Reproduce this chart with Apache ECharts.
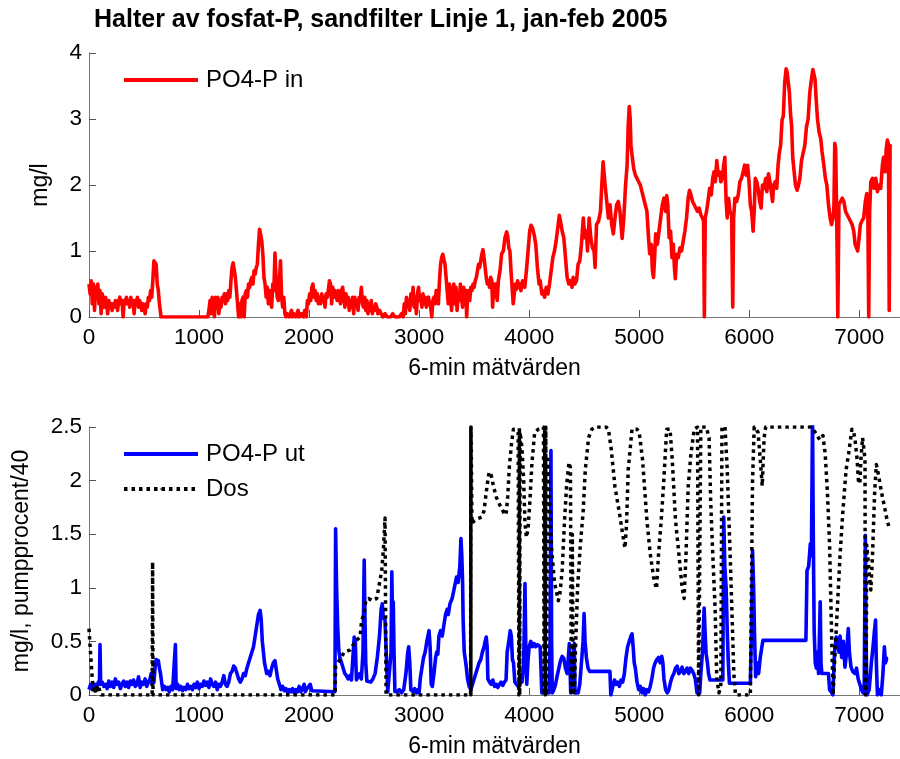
<!DOCTYPE html>
<html><head><meta charset="utf-8">
<script src="https://cdn.jsdelivr.net/npm/echarts@6/dist/echarts.min.js"></script>
<style>html,body{margin:0;padding:0;background:#fff}#c{width:900px;height:759px}</style>
</head><body><div id="c"></div>
<script>
const titleText = 'Halter av fosfat-P, sandfilter Linje 1, jan-feb 2005';
const xName = '6-min mätvärden';
const yNameTop = 'mg/l';
const yNameBottom = 'mg/l, pumpprocent/40';
const legendTop = ['PO4-P in'];
const legendBottom = ['PO4-P ut', 'Dos'];

// PO4-P in (top panel) [sample index, mg/l]
const po4In = [[0,0.5],[10,0.35],[20,0.55],[30,0.2],[40,0.5],[50,0.1],[60,0.45],[70,0.3],[80,0.5],[90,0.2],[100,0.4],[110,0.05],[120,0.35],[130,0.25],[140,0.15],[150,0.3],[160,0.2],[170,0.05],[180,0.25],[190,0.15],[200,0.2],[210,0.1],[220,0.2],[230,0.15],[240,0.25],[250,0.2],[260,0.1],[270,0.25],[280,0.3],[290,0.2],[300,0.25],[310,0.0],[320,0.25],[330,0.2],[340,0.3],[350,0.2],[360,0.25],[370,0.15],[380,0.3],[390,0.2],[400,0.25],[410,0.05],[420,0.25],[430,0.2],[440,0.3],[450,0.15],[460,0.25],[470,0.2],[480,0.1],[490,0.2],[500,0.15],[510,0.05],[520,0.2],[530,0.15],[540,0.3],[550,0.25],[560,0.4],[570,0.3],[580,0.55],[590,0.85],[600,0.82],[610,0.8],[620,0.5],[630,0.4],[640,0.2],[655,0],
[1080,0],[1090,0.1],[1100,0.25],[1110,0.05],[1120,0.3],[1130,0.2],[1140,0],[1150,0.3],[1160,0.2],[1170,0.3],[1180,0.05],[1190,0.25],[1200,0.15],[1210,0.3],[1220,0.25],[1230,0.35],[1240,0.2],[1250,0.35],[1260,0.25],[1270,0.4],[1280,0.3],[1290,0.55],[1300,0.75],[1310,0.82],[1320,0.8],[1330,0.6],[1340,0.4],[1350,0.2],[1360,0.0],[1370,0.2],[1380,0.0],[1390,0.25],[1400,0.3],[1410,0.0],[1420,0.35],[1430,0.4],[1440,0.3],[1450,0.5],[1460,0.45],[1470,0.55],[1480,0.6],[1490,0.5],[1500,0.7],[1510,0.65],[1520,0.75],[1530,0.8],[1540,1.1],[1550,1.33],[1560,1.25],[1570,1.15],[1580,0.95],[1590,0.6],[1600,0.5],[1610,0.3],[1620,0.45],[1630,0.2],[1640,0.4],[1650,0.3],[1660,0.15],[1670,0.5],[1680,0.4],[1690,0.97],[1700,0.6],[1710,0.3],[1720,0.25],[1730,0.5],[1740,0.85],[1750,0.3],[1760,0.15],[1770,0.3],[1780,0.05],[1790,0],
[1800,0.05],[1820,0.0],[1840,0.1],[1850,0.0],[1860,0.05],[1880,0.0],[1900,0.1],[1910,0.0],[1930,0.05],[1950,0.0],[1960,0.1],[1975,0.0],[1985,0.25],[1995,0.2],[2005,0.35],[2015,0.25],[2025,0.45],[2035,0.5],[2045,0.3],[2055,0.4],[2065,0.25],[2075,0.35],[2085,0.2],[2095,0.3],[2105,0.2],[2115,0.35],[2125,0.25],[2135,0.3],[2145,0.15],[2155,0.35],[2165,0.3],[2175,0.4],[2185,0.55],[2195,0.5],[2205,0.2],[2215,0.45],[2225,0.3],[2235,0.4],[2245,0.35],[2255,0.25],[2265,0.4],[2275,0.3],[2285,0.2],[2295,0.4],[2305,0.45],[2315,0.3],[2325,0.15],[2335,0.35],[2345,0.2],[2355,0.3],[2365,0.1],[2375,0.25],[2385,0.15],[2395,0.3],[2405,0.05],[2415,0.3],[2425,0.2],[2435,0.25],[2445,0.1],[2455,0.3],[2465,0.25],[2475,0.45],[2485,0.2],[2495,0.15],[2505,0.3],[2515,0.1],[2525,0.25],[2535,0.05],[2545,0.2],[2555,0.1],[2565,0.25],[2575,0.05],[2585,0.15],[2595,0.1],[2605,0.2],[2615,0.15],[2625,0.05],[2640,0.1],[2655,0.05],[2670,0.0],[2690,0.05],[2710,0.0],[2740,0.0],[2760,0.05],[2780,0.0],[2800,0.0],[2820,0.0],[2840,0.05],[2855,0.0],[2865,0.2],[2875,0.05],[2885,0.3],[2895,0.15],[2905,0.25],[2915,0.1],[2925,0.35],[2935,0.2],[2945,0.45],[2955,0.15],[2965,0.3],[2975,0.05],[2985,0.35],[2995,0.45],[3005,0.25],[3015,0.3],[3025,0.15],[3035,0.35],[3045,0.2],[3055,0.3],[3065,0.15],[3075,0.25],[3085,0.3],[3095,0.2],[3105,0.15],[3115,0.0],[3125,0.25],[3135,0.3],[3145,0.2],[3155,0.4],[3165,0.35],[3175,0.2],[3185,0.55],[3195,0.8],[3205,0.9],[3215,0.95],[3225,0.93],[3235,0.8],[3245,0.6],[3255,0.4],[3265,0.2],[3275,0.5],[3285,0.3],[3295,0.1],[3305,0.4],[3315,0.5],[3325,0.2],[3335,0.45],[3345,0.1],[3355,0.35],[3365,0.25],[3375,0.5],[3385,0.3],[3395,0.15],[3405,0.45],[3415,0.3],[3425,0.4],[3432,0.0],[3440,0.3],[3450,0.4],[3460,0.25],[3470,0.45],[3480,0.4],[3490,0.5],[3500,0.45],[3510,0.55],[3520,0.6],[3530,0.7],[3540,0.8],[3550,0.75],[3560,0.85],[3570,0.95],[3580,1.02],[3590,0.9],[3600,0.75],[3610,0.6],[3620,0.5],[3630,0.55],[3640,0.45],[3650,0.6],[3660,0.55],[3668,0.15],[3675,0.4],[3685,0.5],[3695,0.3],
[3700,0.5],[3710,0.25],[3720,0.55],[3735,0.7],[3750,0.96],[3765,1.0],[3780,1.2],[3796,1.29],[3805,1.22],[3815,1.05],[3825,1.0],[3835,0.7],[3845,0.45],[3855,0.2],[3865,0.35],[3875,0.5],[3885,0.42],[3895,0.55],[3905,0.45],[3915,0.5],[3925,0.4],[3940,0.55],[3960,0.45],[3975,0.7],[3990,1.0],[4005,1.3],[4017,1.39],[4030,1.35],[4045,1.25],[4060,1.1],[4075,0.75],[4090,0.5],[4100,0.55],[4115,0.35],[4125,0.4],[4140,0.3],[4155,0.45],[4170,0.35],[4185,0.5],[4200,0.7],[4215,0.9],[4230,1.0],[4245,1.15],[4260,1.35],[4274,1.54],[4285,1.45],[4300,1.3],[4315,1.2],[4330,0.9],[4345,0.6],[4360,0.5],[4375,0.55],[4390,0.45],[4400,0.6],[4415,0.5],[4430,0.55],[4445,0.8],[4460,0.85],[4475,1.1],[4492,1.5],[4505,1.2],[4520,1.3],[4530,1.0],[4545,1.5],[4560,1.2],[4575,1.05],[4590,1.0],
[4599,0.75],[4612,1.4],[4630,1.45],[4648,1.6],[4660,2.0],[4672,2.35],[4690,2.0],[4705,1.75],[4720,1.5],[4735,1.7],[4750,1.4],[4765,1.26],[4780,1.5],[4795,1.7],[4810,1.75],[4825,1.6],[4845,1.19],[4860,1.5],[4875,1.97],[4890,2.3],[4900,2.9],[4910,3.19],[4918,3.0],[4925,2.6],[4935,2.45],[4950,2.25],[4965,2.15],
[4980,2.1],[4995,2.05],[5010,2.0],[5025,1.9],[5040,1.8],[5055,1.7],[5070,1.6],[5085,1.2],[5095,0.96],[5110,1.1],[5120,0.7],[5130,0.6],[5140,0.9],[5150,1.26],[5165,1.1],[5180,1.3],[5195,1.5],[5210,1.7],[5225,1.8],[5240,1.6],[5250,1.84],[5260,1.7],[5272,1.2],[5285,1.3],[5298,0.9],[5310,1.1],[5320,0.75],[5328,0.58],[5340,0.95],[5355,0.9],[5370,1.05],[5385,1.0],[5400,1.15],[5415,1.3],[5430,1.5],[5445,1.8],[5457,1.92],[5470,1.85],[5485,1.75],[5500,1.7],[5515,1.68],[5530,1.6],[5545,1.65],[5560,1.55],[5575,1.5],[5585,1.45],[5592,0],
[5600,1.5],[5612,1.6],[5625,1.75],[5640,1.95],[5655,1.85],[5668,2.1],[5680,2.2],[5692,2.05],[5705,2.37],[5718,2.15],[5730,2.2],[5742,2.05],[5755,2.1],[5768,2.3],[5778,2.42],[5790,1.75],[5800,1.5],[5812,1.8],[5825,1.6],[5840,1.55],[5850,0.15],[5858,1.5],[5870,1.8],[5885,1.75],[5900,1.85],[5915,2.05],[5930,2.1],[5945,2.2],[5958,2.3],[5972,2.15],[5985,2.3],[5998,2.05],[6010,1.7],[6022,1.6],[6035,1.3],[6045,1.6],[6055,2.1],[6068,2.05],[6080,1.95],[6095,1.75],[6108,1.65],[6120,2.0],[6135,1.95],[6150,2.1],[6160,1.9],[6175,2.17],[6188,2.05],[6200,1.9],[6212,1.75],[6222,2.0],[6238,2.05],[6250,1.95],[6262,2.3],[6272,2.47],[6285,2.6],[6298,2.98],[6310,3.05],[6322,3.55],[6335,3.76],[6345,3.7],[6355,3.55],[6365,3.4],[6375,3.08],[6385,2.9],[6395,2.42],[6408,2.2],[6420,2.0],[6435,1.92],[6448,2.0],[6460,2.1],[6475,2.37],[6490,2.4],[6505,2.6],[6520,2.88],[6535,3.0],[6550,3.4],[6565,3.6],[6578,3.75],[6588,3.78],[6598,3.6],[6608,3.3],[6620,3.0],[6635,2.8],[6650,2.7],[6662,2.5],[6678,2.3],[6692,2.1],[6705,2.0],[6720,1.7],[6735,1.5],[6748,1.4],[6762,1.5],[6770,1.7],[6777,2.63],[6785,2.55],[6795,1.5],[6805,0],[6815,1.7],[6830,1.75],[6845,1.8],[6860,1.75],[6875,1.6],[6890,1.55],[6905,1.5],[6920,1.45],[6935,1.4],[6950,1.3],[6962,1.1],[6975,1.05],[6985,1.0],[6995,1.15],[7010,1.4],[7025,1.46],[7040,1.5],[7055,1.75],[7068,1.87],[7078,1.5],[7086,0],[7094,1.6],[7105,2.05],[7120,2.1],[7135,1.95],[7150,2.1],[7165,1.9],[7180,2.0],[7195,1.95],[7210,2.3],[7220,2.42],[7235,2.2],[7245,2.55],[7255,2.68],[7265,2.62],[7272,0.1],[7280,2.6],[7287,2.62]];

// PO4-P ut (bottom panel) [sample index, mg/l]
const po4Ut = [[0,0.05],[15,0.1],[30,0.05],[50,0.1],[70,0.08],[85,0.12],[95,0.1],[100,0.47],[106,0.1],[120,0.12],[135,0.08],[150,0.1],[165,0.06],[180,0.13],[195,0.08],[210,0.12],[225,0.07],[240,0.15],[255,0.1],[270,0.12],[285,0.06],[300,0.1],[315,0.13],[330,0.08],[345,0.12],[360,0.07],[375,0.13],[390,0.1],[405,0.14],[420,0.08],[435,0.1],[450,0.17],[465,0.07],[480,0.12],[495,0.1],[510,0.15],[525,0.08],[540,0.12],[555,0.15],[565,0.2],[575,0.1],[590,0.12],[600,0.25],[610,0.33],[620,0.3],[630,0.32],[640,0.25],[650,0.2],[660,0.12],[670,0.05],[685,0.08],[700,0.05],[715,0.07],[730,0.03],[745,0.08],[760,0.05],[775,0.06],[785,0.47],[792,0.06],[805,0.1],[820,0.05],[835,0.08],[850,0.04],[865,0.07],[880,0.05],[895,0.1],[910,0.06],[925,0.08],[940,0.05],[955,0.1],[970,0.07],[985,0.12],[1000,0.06],[1015,0.1],[1030,0.08],[1045,0.13],[1060,0.09],[1075,0.12],[1090,0.07],[1105,0.15],[1120,0.1],[1135,0.08],[1150,0.12],[1165,0.05],[1180,0.1],[1195,0.08],[1210,0.12],[1225,0.18],[1240,0.1],[1255,0.08],[1270,0.12],[1285,0.2],[1300,0.22],[1315,0.27],[1330,0.25],[1345,0.2],[1360,0.15],[1375,0.12],[1390,0.15],[1405,0.2],[1420,0.18],[1435,0.25],[1450,0.3],[1465,0.35],[1480,0.4],[1495,0.45],[1510,0.55],[1525,0.65],[1540,0.75],[1555,0.79],[1565,0.7],[1575,0.5],[1585,0.4],[1595,0.3],[1605,0.25],[1615,0.2],[1630,0.22],[1645,0.18],[1660,0.25],[1675,0.3],[1690,0.32],[1700,0.25],[1715,0.15],[1730,0.1],[1745,0.05],[1760,0.08],[1775,0.04],[1790,0.06],[1805,0.02],[1820,0.05],[1835,0.03],[1850,0.06],[1865,0.02],[1880,0.05],[1895,0.03],[1910,0.08],[1925,0.03],[1940,0.06],[1955,0.1],[1965,0.03],[1980,0.06],[1995,0.05],[2010,0.1],[2025,0.04],[2030,0.03],[2235,0.03],[2241,1.55],[2250,1.0],[2260,0.64],[2270,0.42],[2280,0.35],[2295,0.3],[2310,0.25],[2325,0.2],[2340,0.18],[2355,0.15],[2370,0.18],[2385,0.14],[2400,0.15],[2410,0.54],[2420,0.5],[2430,0.14],[2445,0.15],[2460,0.2],[2475,0.15],[2490,0.4],[2501,1.26],[2508,0.7],[2515,0.3],[2525,0.13],[2540,0.12],[2560,0.12],[2580,0.15],[2600,0.2],[2620,0.35],[2640,0.55],[2655,0.8],[2665,0.85],[2675,0.72],[2690,0.7],[2700,0.7],[2708,0.2],[2715,0.03],[2730,0.03],[2745,0.4],[2752,1.15],[2758,0.7],[2765,0.87],[2772,0.4],[2780,0.03],[2800,0.03],[2820,0.05],[2840,0.02],[2860,0.05],[2880,0.2],[2895,0.38],[2905,0.45],[2915,0.3],[2925,0.05],[2945,0.03],[2960,0.06],[2975,0.02],[2990,0.05],[3000,0.02],[3010,0.15],[3025,0.25],[3040,0.35],[3055,0.4],[3070,0.5],[3080,0.55],[3090,0.6],[3100,0.45],[3110,0.1],[3120,0.08],[3135,0.2],[3150,0.35],[3160,0.4],[3170,0.38],[3180,0.55],[3195,0.6],[3210,0.55],[3225,0.65],[3240,0.75],[3255,0.8],[3265,0.75],[3280,0.85],[3300,0.9],[3320,1.0],[3340,1.1],[3355,1.05],[3370,1.2],[3380,1.46],[3388,1.3],[3395,1.05],[3400,0.7],[3410,0.4],[3420,0.33],[3430,0.25],[3440,0.15],[3455,0.08],[3470,0.05],[3485,0.1],[3500,0.15],[3515,0.2],[3530,0.25],[3545,0.3],[3560,0.33],[3575,0.4],[3590,0.45],[3600,0.5],[3610,0.54],[3618,0.45],[3625,0.15],[3640,0.12],[3655,0.1],[3670,0.14],[3685,0.08],[3700,0.1],[3715,0.07],[3730,0.1],[3745,0.12],[3760,0.09],[3775,0.12],[3790,0.14],[3800,0.4],[3815,0.5],[3828,0.6],[3838,0.55],[3848,0.33],[3858,0.3],[3870,0.12],[3885,0.1],[3900,0.08],[3915,0.1],[3925,0.15],[3935,0.12],[3950,0.3],[3962,1.04],[3970,0.4],[3978,0.1],[3990,0.33],[4000,0.45],[4015,0.5],[4030,0.45],[4045,0.48],[4060,0.45],[4075,0.47],[4090,0.46],[4100,0.45],[4110,0.45],[4115,0.02],[4130,0.02],[4150,0.02],[4180,0.02],[4190,0.5],[4198,2.28],[4204,0.5],[4210,0.02],[4225,0.05],[4240,0.1],[4255,0.18],[4270,0.25],[4285,0.32],[4300,0.36],[4315,0.34],[4330,0.25],[4345,0.2],[4355,0.2],[4365,0.48],[4372,0.48],[4378,0.02],[4395,0.02],[4410,0.48],[4417,0.02],[4430,0.03],[4445,0.02],[4460,0.1],[4475,0.3],[4490,0.5],[4499,0.76],[4508,0.5],[4520,0.35],[4535,0.25],[4550,0.22],[4734,0.22],[4742,0.0],[4760,0.08],[4775,0.14],[4790,0.1],[4805,0.12],[4820,0.08],[4835,0.14],[4850,0.12],[4865,0.2],[4880,0.35],[4895,0.45],[4910,0.5],[4925,0.55],[4935,0.57],[4945,0.45],[4955,0.3],[4965,0.25],[4980,0.12],[4995,0.05],[5010,0.08],[5025,0.02],[5040,0.06],[5055,0.0],[5070,0.05],[5085,0.03],[5100,0.08],[5115,0.15],[5130,0.25],[5145,0.3],[5160,0.33],[5175,0.35],[5190,0.3],[5205,0.36],[5215,0.3],[5225,0.15],[5240,0.05],[5255,0.02],[5270,0.05],[5285,0.12],[5300,0.17],[5315,0.2],[5330,0.25],[5345,0.27],[5360,0.2],[5375,0.22],[5390,0.26],[5405,0.2],[5420,0.22],[5435,0.25],[5450,0.2],[5465,0.25],[5480,0.23],[5495,0.2],[5510,0.15],[5525,0.02],[5550,0.02],[5560,0.2],[5575,0.4],[5590,0.81],[5598,0.6],[5608,0.39],[5620,0.3],[5630,0.2],[5643,0.14],[5760,0.14],[5768,1.66],[5778,1.2],[5790,1.0],[5800,0.6],[5810,0.3],[5820,0.11],[6010,0.11],[6020,0.6],[6030,1.35],[6040,1.0],[6048,0.57],[6058,0.17],[6070,0.3],[6085,0.2],[6100,0.35],[6115,0.45],[6125,0.51],[6515,0.51],[6525,1.16],[6540,1.2],[6555,1.41],[6565,1.3],[6575,2.6],[6582,1.5],[6590,0.6],[6600,0.3],[6610,0.25],[6620,0.4],[6630,0.2],[6645,0.87],[6652,0.3],[6660,0.2],[6720,0.2],[6730,0.05],[6750,0.02],[6760,0.0],[6775,0.4],[6790,0.54],[6805,0.5],[6815,0.4],[6825,0.55],[6840,0.35],[6855,0.5],[6870,0.26],[6885,0.4],[6900,0.62],[6910,0.4],[6925,0.26],[6940,0.22],[6960,0.2],[6975,0.25],[6990,0.15],[7005,0.1],[7020,0.05],[7035,0.02],[7045,0.1],[7055,1.49],[7062,0.5],[7070,0.0],[7090,0.05],[7110,0.3],[7125,0.45],[7138,0.6],[7148,0.7],[7155,0.3],[7165,0.0],[7185,0.05],[7200,0.0],[7215,0.2],[7228,0.45],[7238,0.3],[7250,0.34],[7262,0.34]];

// Dos = pumpprocent/40 (bottom panel)
const dos = [[0,0.62],[10,0.45],[20,0.3],[30,0.15],[40,0.05],[50,0.08],[60,0.02],[70,0.1],[80,0.05],[90,0.08],[100,0.02],[110,0.0],[574,0.0],[578,1.24],[582,0.0],[2236,0.0],[2241,0.27],[2260,0.3],[2281,0.33],[2320,0.4],[2372,0.42],[2420,0.5],[2463,0.54],[2478,0.7],[2500,0.75],[2515,0.88],[2540,0.9],[2575,0.88],[2614,0.9],[2629,0.98],[2660,1.16],[2675,1.35],[2690,1.65],[2700,0.0],
[3468,0.0],[3470,2.5],[3470,0.0],[3470,2.5],[3470,0.0],[3470,2.5],[3470,0.0],[3472,2.5],[3480,1.6],[3495,1.62],[3520,1.64],[3545,1.65],[3570,1.66],[3590,1.72],[3605,1.85],[3620,1.97],[3636,2.08],[3655,2.05],[3675,1.95],[3700,1.85],[3720,1.8],[3745,1.75],[3770,1.7],[3790,1.68],[3805,1.85],[3820,2.13],[3840,2.35],[3857,2.48],[3880,2.47],[3900,2.45],[3907,0],[3911,2.5],[3914,0],[3918,2.45],[3935,2.3],[3950,2.0],[3962,1.6],[3975,1.47],[3990,1.55],[4005,1.78],[4025,2.16],[4050,2.45],[4085,2.48],[4130,2.5],[4136,0],[4141,2.5],[4146,0],[4151,2.5],[4158,0],[4168,2.2],[4185,1.8],[4205,1.35],[4230,1.05],[4265,0.88],[4280,0.95],[4300,1.16],[4320,1.6],[4340,1.95],[4362,2.17],[4375,2.12],[4383,0],[4392,1.5],[4400,0],[4410,0.02],[4420,0.4],[4440,1.0],[4465,1.4],[4490,1.7],[4510,2.1],[4540,2.4],[4570,2.48],[4600,2.5],[4700,2.5],[4720,2.48],[4745,2.3],[4780,1.94],[4820,1.7],[4850,1.5],[4871,1.37],[4885,1.6],[4900,2.1],[4935,2.48],[4980,2.48],[5000,2.45],[5030,2.2],[5070,1.63],[5100,1.32],[5130,1.1],[5157,0.99],[5175,1.3],[5200,1.63],[5220,1.94],[5250,2.48],[5280,2.48],[5300,2.2],[5330,1.63],[5360,1.32],[5390,1.0],[5408,0.9],[5425,1.3],[5445,1.94],[5470,2.25],[5500,2.48],[5530,2.5],[5540,0],[5550,0],[5560,2.5],[5610,2.5],[5635,2.4],[5650,1.8],[5665,1.4],[5690,0.8],[5705,0.15],[5725,0.02],[5742,0.1],[5752,2.5],[5780,2.5],[5800,2.1],[5830,1.2],[5860,0.2],[5875,0],[6010,0],[6030,2.0],[6045,2.5],[6080,2.45],[6100,2.2],[6118,1.95],[6135,2.4],[6150,2.5],[6560,2.5],[6600,2.45],[6640,2.38],[6670,2.42],[6690,2.25],[6710,1.9],[6730,1.4],[6750,0.5],[6762,0],[6775,0.3],[6800,0.8],[6825,1.3],[6850,1.7],[6880,2.1],[6903,2.25],[6933,2.48],[6950,2.45],[6965,2.35],[6980,2.2],[6992,2.0],[7005,1.97],[7015,2.2],[7030,2.4],[7045,2.4],[7052,2.2],[7055,0],[7062,0.1],[7068,1.4],[7085,1.2],[7105,0.98],[7120,1.3],[7140,1.9],[7155,2.15],[7175,2.05],[7200,1.9],[7230,1.75],[7255,1.62],[7270,1.57]];

const FF = '"Liberation Sans", Arial, Helvetica, sans-serif';
const AX = '#777';
const chart = echarts.init(document.getElementById('c'), null, {renderer: 'canvas'});

function xAxisCfg(g) {
  return {
    type: 'value', gridIndex: g, min: 0, max: 7370, interval: 1000,
    name: xName, nameLocation: 'middle', nameGap: 40,
    nameTextStyle: {fontSize: 23, color: '#000', fontFamily: FF},
    axisLine: {show: true, onZero: false, lineStyle: {color: AX, width: 1}},
    axisTick: {show: true, inside: true, length: 7, lineStyle: {color: '#555'}},
    axisLabel: {margin: 9, fontSize: 22.5, color: '#000', fontFamily: FF, showMaxLabel: false,
      formatter: v => (v % 1000 === 0 ? String(v) : '')},
    splitLine: {show: false}
  };
}
function yAxisCfg(g, max, interval, name, gap) {
  return {
    type: 'value', gridIndex: g, min: 0, max: max, interval: interval,
    name: name, nameLocation: 'middle', nameGap: gap, nameRotate: 90,
    nameTextStyle: {fontSize: 23, color: '#000', fontFamily: FF},
    axisLine: {show: true, lineStyle: {color: AX, width: 1}},
    axisTick: {show: true, inside: true, length: 7, lineStyle: {color: '#555'}},
    axisLabel: {margin: 7, fontSize: 22.5, color: '#000', fontFamily: FF},
    splitLine: {show: false}
  };
}

const legendText = {fontSize: 24, color: '#000', fontFamily: FF, padding: [0, 0, 0, 3]};
chart.setOption({
  animation: false,
  backgroundColor: '#fff',
  title: {text: titleText, left: 94, top: 8, padding: 0,
    textStyle: {fontSize: 25, fontWeight: 'bold', color: '#000', fontFamily: FF}},
  legend: [
    {data: legendTop, left: 122, top: 68, padding: 0, orient: 'vertical', itemWidth: 74, itemHeight: 2,
      lineStyle: {width: 4}, selectedMode: false, textStyle: legendText},
    {data: legendBottom, left: 122, top: 442, padding: 0, orient: 'vertical', itemGap: 11, itemWidth: 74, itemHeight: 2,
      lineStyle: {width: 4}, selectedMode: false, textStyle: legendText}
  ],
  grid: [
    {left: 89, right: 0, top: 53, height: 264},
    {left: 89, right: 0, top: 427, height: 268}
  ],
  xAxis: [xAxisCfg(0), xAxisCfg(1)],
  yAxis: [yAxisCfg(0, 4, 1, yNameTop, 37), yAxisCfg(1, 2.5, 0.5, yNameBottom, 56)],
  series: [
    {name: 'PO4-P in', type: 'line', xAxisIndex: 0, yAxisIndex: 0, data: po4In, symbol: 'none',
      color: '#ff0000', lineStyle: {color: '#ff0000', width: 3.6, join: 'round'}},
    {name: 'PO4-P ut', type: 'line', xAxisIndex: 1, yAxisIndex: 1, data: po4Ut, symbol: 'none',
      color: '#0000ff', lineStyle: {color: '#0000ff', width: 3.6, join: 'round'}},
    {name: 'Dos', type: 'line', xAxisIndex: 1, yAxisIndex: 1, data: dos, symbol: 'none',
      color: '#000', lineStyle: {color: '#000', width: 3.5, type: [3.5, 4], cap: 'butt', join: 'round'}}
  ]
});
</script></body></html>
